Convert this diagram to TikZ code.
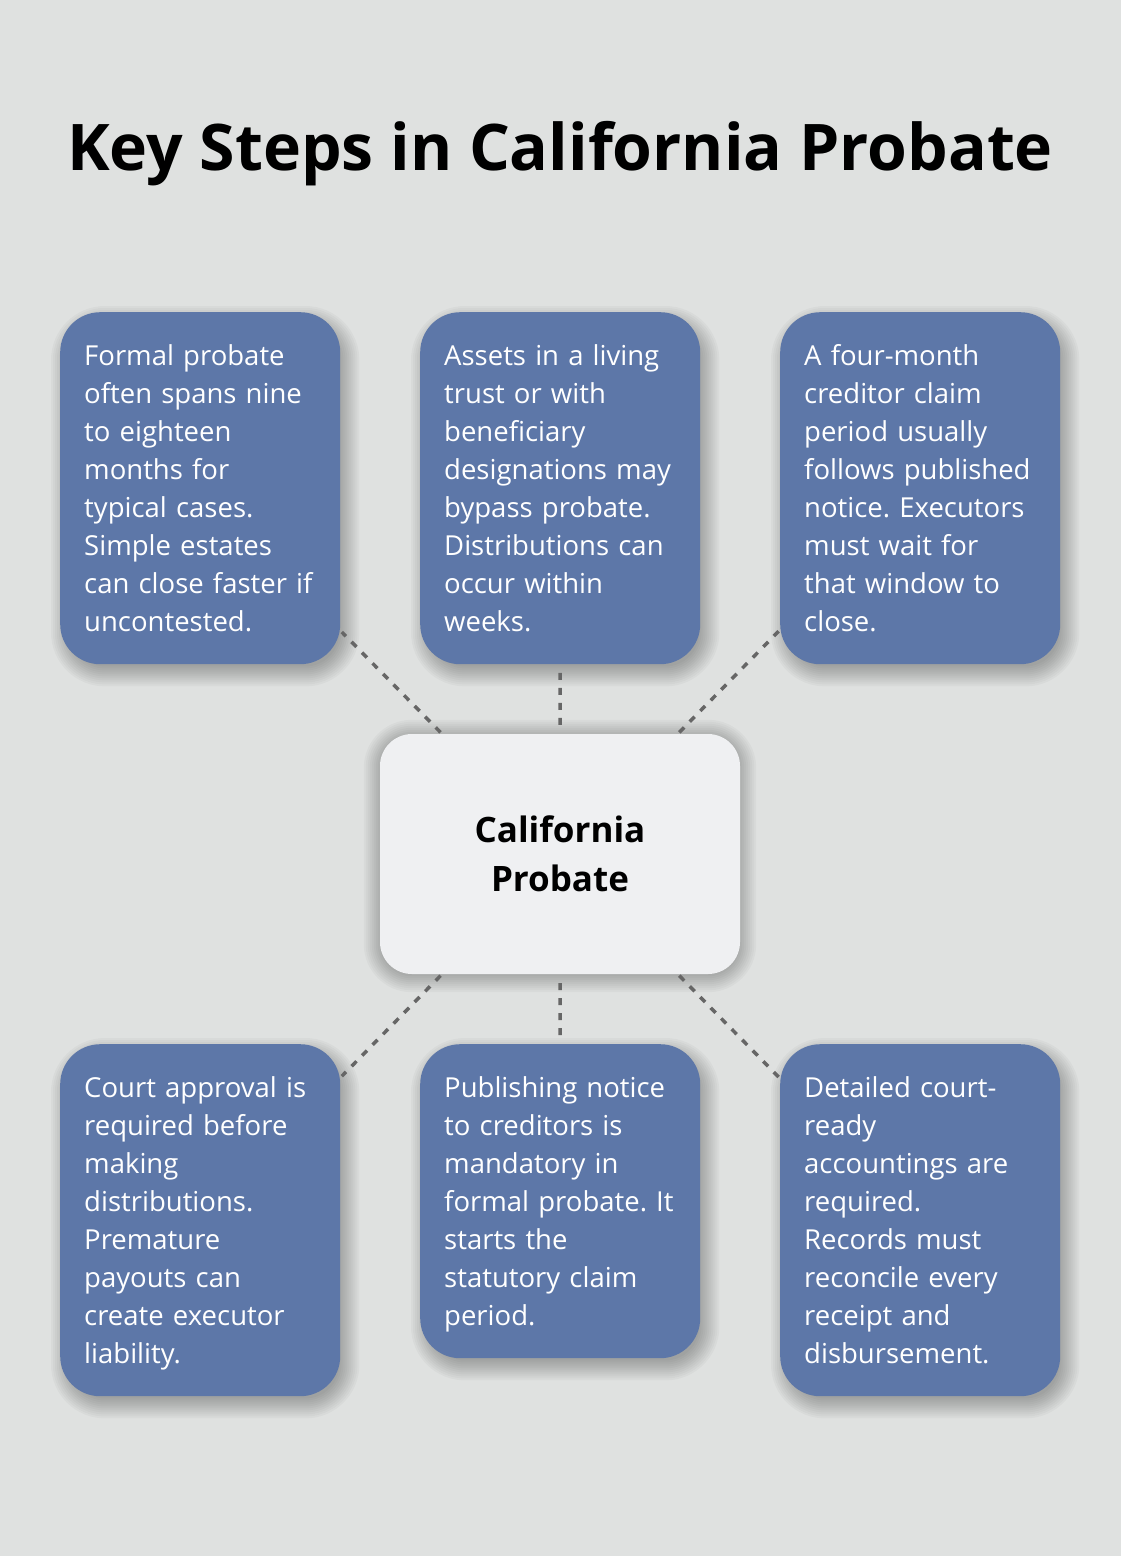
\documentclass[tikz,border=0pt]{standalone}
\usepackage{fontspec}
\setmainfont{Open Sans}
\usetikzlibrary{calc}
\definecolor{bgc}{HTML}{DFE1E0}
\definecolor{boxblue}{HTML}{5D77A8}
\definecolor{centerfill}{HTML}{EFF0F2}
\definecolor{dashgray}{HTML}{666666}
\pgfdeclarelayer{backlayer}
\pgfdeclarelayer{shadowlayer}
\pgfsetlayers{backlayer,shadowlayer,main}
\newcommand{\linestrut}{\rule[-9pt]{0pt}{38pt}}
\tikzset{
  infobox/.style={rectangle, rounded corners=40pt, fill=boxblue, text=white,
    text width=232pt, inner xsep=24pt, inner ysep=0pt, align=left, anchor=north west,
    font=\fontsize{27.5}{38}\selectfont\frenchspacing,
    execute at begin node=\linestrut, execute at end node=\linestrut},
  hubbox/.style={rectangle, rounded corners=32pt, fill=centerfill, text=black,
    minimum width=360pt, minimum height=240pt, align=center,
    font=\fontsize{35}{49}\selectfont\bfseries},
  link/.style={draw=dashgray, line width=3.5pt, dash pattern=on 7pt off 8pt},
  titletext/.style={font=\fontsize{64.3}{70}\selectfont\bfseries, text=black, anchor=base},
  shadowfill/.style={fill=black, opacity=0.028}
}
\newcommand{\softshadow}[6]{% node, radius, xshift, yshift, max spread, next spread
  \begin{pgfonlayer}{shadowlayer}
  \foreach \e in {#5,#6,...,-6}{
    \pgfmathsetmacro{\rr}{max(#2+\e,1)}
    \fill[shadowfill, rounded corners=\rr pt]
      ($(#1.south west)+(#3-\e,#4-\e)$) rectangle ($(#1.north east)+(#3+\e,#4+\e)$);
  }
  \end{pgfonlayer}}
\begin{document}
\begin{tikzpicture}[x=1pt,y=1pt]
\useasboundingbox (0,0) rectangle (1120,-1556);
\begin{pgfonlayer}{backlayer}
\fill[bgc] (-20,20) rectangle (1140,-1576);
\end{pgfonlayer}

\node[titletext] (title) at (560,-170) {Key Steps in California Probate};

\node[infobox, minimum height=352pt] (b1) at (60,-312) {Formal probate\\often spans nine\\to eighteen\\months for\\typical cases.\\Simple estates\\can close faster if\\uncontested.};
\node[infobox, minimum height=352pt] (b2) at (420,-312) {Assets in a living\\trust or with\\beneficiary\\designations may\\bypass probate.\\Distributions can\\occur within\\weeks.};
\node[infobox, minimum height=352pt] (b3) at (780,-312) {A four-month\\creditor claim\\period usually\\follows published\\notice. Executors\\must wait for\\that window to\\close.};

\node[infobox, minimum height=352pt] (b4) at (60,-1044) {Court approval is\\required before\\making\\distributions.\\Premature\\payouts can\\create executor\\liability.};
\node[infobox, minimum height=314pt] (b5) at (420,-1044) {Publishing notice\\to creditors is\\mandatory in\\formal probate. It\\starts the\\statutory claim\\period.};
\node[infobox, minimum height=352pt] (b6) at (780,-1044) {Detailed court-\\ready\\accountings are\\required.\\Records must\\reconcile every\\receipt and\\disbursement.};

\node[hubbox] (hub) at (560,-854) {California\\Probate};

\softshadow{b1}{40}{5}{-8}{14}{12}
\softshadow{b2}{40}{5}{-8}{14}{12}
\softshadow{b3}{40}{5}{-8}{14}{12}
\softshadow{b4}{40}{5}{-8}{14}{12}
\softshadow{b5}{40}{5}{-8}{14}{12}
\softshadow{b6}{40}{5}{-8}{14}{12}
\softshadow{hub}{32}{0}{-2}{16}{14}

\draw[link, shorten <=2pt, shorten >=2pt] (hub) -- (b1);
\draw[link, shorten <=9pt, shorten >=6pt] (hub.north) -- (b2.south);
\draw[link, shorten <=2pt, shorten >=2pt] (hub) -- (b3);
\draw[link, shorten <=2pt, shorten >=2pt] (hub) -- (b4);
\draw[link, shorten <=9pt, shorten >=4pt] (hub.south) -- (b5.north);
\draw[link, shorten <=2pt, shorten >=2pt] (hub) -- (b6);
\end{tikzpicture}
\end{document}
